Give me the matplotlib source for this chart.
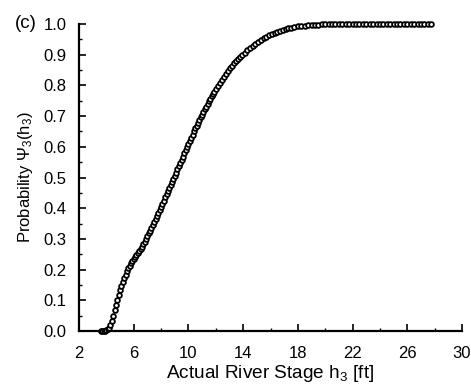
import matplotlib
matplotlib.use("Agg")
import matplotlib.pyplot as plt
from matplotlib.ticker import MultipleLocator

plt.rcParams['font.family'] = ['Liberation Sans', 'DejaVu Sans']
plt.rcParams['mathtext.fontset'] = 'custom'
plt.rcParams['mathtext.rm'] = 'Liberation Sans'
plt.rcParams['mathtext.it'] = 'Liberation Sans:italic'

# River stage h3 [ft] and probability Psi3(h3)
stage = [
    3.6, 3.7, 3.8, 3.9,
    4.0, 4.1, 4.2, 4.3, 4.4, 4.5, 4.6, 4.7, 4.8, 4.9,
    5.0, 5.1, 5.2, 5.3, 5.4, 5.5, 5.6, 5.7, 5.8, 5.9,
    6.0, 6.1, 6.2, 6.3, 6.4, 6.5, 6.6, 6.7, 6.8, 6.9,
    7.0, 7.1, 7.2, 7.3, 7.4, 7.5, 7.6, 7.7, 7.8, 7.9,
    8.0, 8.1, 8.2, 8.3, 8.4, 8.5, 8.6, 8.7, 8.8, 8.9,
    9.0, 9.1, 9.2, 9.3, 9.4, 9.5, 9.6, 9.7, 9.8, 9.9,
    10.0, 10.1, 10.2, 10.3, 10.4, 10.5, 10.6, 10.7, 10.8, 10.9,
    11.0, 11.1, 11.2, 11.3, 11.4, 11.5, 11.6, 11.7, 11.8, 11.9,
    12.0, 12.15, 12.3, 12.45, 12.6, 12.75, 12.9,
    13.05, 13.2, 13.35, 13.5, 13.65, 13.8, 13.95,
    14.1, 14.3, 14.5, 14.7, 14.9, 15.1, 15.3, 15.5,
    15.7, 15.9, 16.1, 16.3, 16.5, 16.7, 16.9, 17.1, 17.3, 17.5, 17.75,
    18.0, 18.25, 18.5, 18.75, 19.0, 19.25, 19.5, 19.75,
    20.0, 20.25, 20.5, 20.75, 21.0, 21.25, 21.5, 21.75,
    22.0, 22.25, 22.5, 22.75, 23.0, 23.25, 23.5, 23.75,
    24.0, 24.25, 24.5, 24.75, 25.0, 25.25, 25.5, 25.75,
    26.0, 26.25, 26.5, 26.75, 27.0, 27.25, 27.5, 27.7,
]
probability = [
    0.000, 0.000, 0.001, 0.001,
    0.003, 0.006, 0.011, 0.019, 0.033, 0.050, 0.067, 0.085, 0.102, 0.118,
    0.133, 0.147, 0.160, 0.172, 0.184, 0.195, 0.204, 0.212, 0.220, 0.227,
    0.234, 0.240, 0.247, 0.253, 0.260, 0.267, 0.275, 0.283, 0.291, 0.300,
    0.309, 0.318, 0.327, 0.336, 0.346, 0.355, 0.365, 0.375, 0.385, 0.395,
    0.405, 0.415, 0.425, 0.435, 0.445, 0.456, 0.466, 0.476, 0.486, 0.496,
    0.506, 0.516, 0.527, 0.537, 0.548, 0.558, 0.568, 0.579, 0.589, 0.600,
    0.610, 0.620, 0.630, 0.640, 0.650, 0.660, 0.669, 0.678, 0.687, 0.696,
    0.705, 0.714, 0.722, 0.731, 0.740, 0.748, 0.756, 0.764, 0.772, 0.779,
    0.787, 0.798, 0.808, 0.819, 0.828, 0.838, 0.847,
    0.856, 0.864, 0.872, 0.879, 0.887, 0.893, 0.900,
    0.906, 0.914, 0.922, 0.929, 0.936, 0.942, 0.948, 0.953,
    0.958, 0.963, 0.967, 0.971, 0.975, 0.978, 0.981, 0.984, 0.986, 0.988, 0.990,
    0.992, 0.994, 0.995, 0.996, 0.997, 0.998, 0.998, 0.999,
    0.999, 0.999, 1.000, 1.000, 1.000, 1.000, 1.000, 1.000,
    1.000, 1.000, 1.000, 1.000, 1.000, 1.000, 1.000, 1.000,
    1.000, 1.000, 1.000, 1.000, 1.000, 1.000, 1.000, 1.000,
    1.000, 1.000, 1.000, 1.000, 1.000, 1.000, 1.000, 1.000,
]

x_ticks = [2, 6, 10, 14, 18, 22, 26, 30]
y_ticks = [0.0, 0.1, 0.2, 0.3, 0.4, 0.5, 0.6, 0.7, 0.8, 0.9, 1.0]

fig = plt.figure(figsize=(4.71, 3.87), dpi=100)
ax = fig.add_axes([79/471, 1-331/387, (462-79)/471, (331-24)/387])

ax.plot(stage, probability, linestyle='none', marker='o', markersize=3.4,
        markerfacecolor='white', markeredgecolor='black', markeredgewidth=1.3,
        clip_on=False, zorder=3)

ax.set_xlim(2, 30)
ax.set_ylim(0, 1.0)
ax.set_xticks(x_ticks)
ax.set_yticks(y_ticks)
ax.set_yticklabels([f"{v:.1f}" for v in y_ticks])
ax.xaxis.set_minor_locator(MultipleLocator(2))
ax.yaxis.set_minor_locator(MultipleLocator(0.05))

for s in ['top', 'right']:
    ax.spines[s].set_visible(False)
for s in ['left', 'bottom']:
    ax.spines[s].set_linewidth(1.6)

ax.tick_params(which='major', direction='in', length=5, width=1.2,
               labelsize=12, top=False, right=False)
ax.tick_params(axis='x', which='major', pad=11)
ax.tick_params(axis='y', which='major', pad=9)
ax.tick_params(which='minor', direction='in', length=2.5, width=1.0,
               top=False, right=False)

ax.set_xlabel("Actual River Stage h$_3$ [ft]", fontsize=13.7, labelpad=1)
ax.set_ylabel("Probability Ψ$_3$(h$_3$)", fontsize=12, labelpad=6)

fig.text(26/471, 1-23.5/387, "(c)", fontsize=13.5, ha='center', va='center')

fig.savefig("out.png", dpi=100)
